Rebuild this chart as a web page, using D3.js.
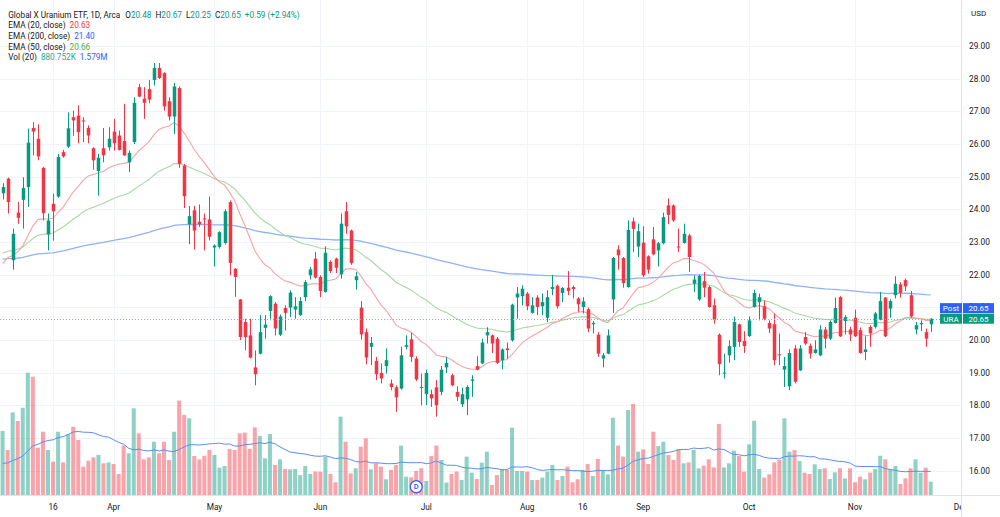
<!DOCTYPE html>
<html><head><meta charset="utf-8">
<script src="https://cdnjs.cloudflare.com/ajax/libs/d3/7.8.5/d3.min.js"></script>
<style>body{margin:0;background:#fff}svg{display:block}text{font-family:Roboto,"Noto Sans",sans-serif}</style>
</head><body>
<svg id="c" width="1000" height="517"></svg>
<script>
// ---------- DATA ----------
const firstSession = "2022-03-02";
const axisLastDay = "2022-12-09";
const holidays = ["2022-04-15","2022-05-30","2022-06-20","2022-07-04","2022-09-05","2022-11-24"];
const tickDates  = ["2022-03-16","2022-04-01","2022-05-02","2022-06-01","2022-07-01","2022-08-01","2022-08-16","2022-09-01","2022-10-03","2022-11-01","2022-12-01"];
const tickLabels = ["16","Apr","May","Jun","Jul","Aug","16","Sep","Oct","Nov","Dec"];
const priceTicks = [16,17,18,19,20,21,22,23,24,25,26,27,28,29];
const dividendDate = "2022-06-29";

const openP = [24.49,24.94,22.44,23.90,24.29,24.68,26.49,26.16,25.27,23.23,24.17,24.39,25.75,25.92,26.82,26.87,26.72,26.49,25.87,25.17,
25.87,25.90,26.38,26.26,26.09,25.44,26.06,27.74,27.39,27.68,27.96,28.33,28.17,27.31,26.84,27.71,25.34,23.54,23.97,23.62,
23.72,23.69,22.83,22.85,22.97,24.22,22.18,21.24,20.55,20.14,19.16,19.58,20.37,20.89,21.11,20.16,20.98,20.99,20.93,20.76,
21.31,21.98,22.49,21.93,21.47,22.39,22.49,22.01,23.94,23.35,21.83,20.99,20.24,19.79,19.36,18.99,19.20,18.67,18.55,18.51,
19.79,20.02,19.43,18.56,18.34,18.34,18.55,18.41,19.16,18.92,18.41,18.03,18.18,18.75,19.20,19.28,20.14,20.14,20.04,19.38,
19.74,19.99,21.30,21.34,21.42,20.83,21.30,21.03,20.68,21.56,21.66,21.44,21.60,21.62,21.27,21.01,20.94,20.48,20.16,19.43,
19.58,21.24,22.77,22.51,21.62,23.63,22.86,22.98,22.56,23.08,22.74,22.96,24.12,24.12,22.86,22.97,23.20,21.72,21.24,21.80,
21.62,21.06,20.16,18.97,19.53,19.79,20.48,19.97,20.12,21.01,21.16,21.03,20.52,20.48,19.56,19.09,18.58,19.74,19.07,20.09,
19.82,19.60,19.53,20.32,20.04,20.52,21.31,20.58,20.32,20.68,20.30,19.63,20.40,20.40,20.62,21.30,20.96,21.37,21.70,21.83,
21.37,20.32,20.48,20.24,20.48];
const highP = [24.80,24.97,23.41,24.22,24.98,26.47,26.67,26.60,25.30,23.87,24.48,25.70,25.82,26.97,27.02,27.18,26.82,26.57,25.90,25.70,
26.49,26.51,26.77,26.41,27.23,25.80,27.43,27.84,27.74,27.96,28.48,28.48,28.20,27.43,27.87,27.76,25.39,24.10,24.10,24.15,
23.87,24.39,22.92,23.33,24.00,24.27,22.20,21.25,20.65,20.65,19.68,20.76,20.76,21.37,21.16,20.78,21.06,21.52,21.31,21.31,
21.83,22.23,22.69,21.98,22.87,22.44,22.52,23.87,24.22,23.38,22.08,21.19,20.35,20.09,19.48,19.28,19.74,18.79,18.61,19.79,
20.14,20.22,19.50,18.97,19.09,18.48,18.77,19.20,19.48,18.97,18.58,18.54,18.61,18.92,19.50,20.04,20.39,20.17,20.09,19.74,
19.92,21.11,21.62,21.67,21.47,21.31,21.37,21.42,21.52,21.99,21.70,21.62,22.11,21.67,21.31,21.31,20.99,20.58,20.24,19.60,
20.32,22.54,22.90,22.54,23.66,23.75,23.56,23.48,22.59,23.46,23.00,23.90,24.33,24.15,23.41,23.56,23.25,21.98,22.00,22.08,
21.67,21.27,20.20,19.58,19.99,20.72,20.50,20.27,20.72,21.54,21.42,21.21,20.60,20.81,20.20,19.48,19.71,19.84,19.84,20.24,
19.89,19.99,20.45,20.40,20.60,21.30,21.34,20.76,20.40,20.93,20.38,20.11,20.45,20.86,21.47,21.31,21.24,21.95,21.77,21.88,
21.50,20.55,20.60,20.35,20.67];
const lowP = [24.30,23.87,22.15,23.56,23.41,24.07,25.65,25.50,23.66,22.74,23.04,24.35,25.58,25.88,26.25,26.02,26.06,26.02,25.21,24.42,
25.44,25.80,25.80,25.80,25.64,25.14,26.00,27.43,26.77,27.25,27.79,27.99,27.02,26.72,26.31,25.27,24.04,22.93,22.77,23.46,
22.74,23.05,22.25,22.80,22.92,21.98,21.32,20.00,19.68,19.43,18.61,19.56,20.04,20.65,20.14,20.12,20.29,20.70,20.65,20.74,
21.19,21.85,21.88,21.31,21.45,22.05,22.05,21.88,23.25,22.30,21.54,20.01,19.25,19.23,18.77,18.67,18.97,18.46,17.80,18.48,
19.71,19.33,18.74,18.00,18.00,17.95,17.65,18.31,18.99,18.58,18.13,17.95,17.70,18.26,19.07,19.26,19.89,19.60,19.26,19.10,
19.43,19.95,20.65,21.06,20.91,20.81,20.76,20.76,20.55,21.37,20.96,21.16,21.37,21.27,20.86,20.81,20.24,20.20,19.48,19.16,
19.56,20.83,22.15,21.60,21.60,22.69,22.54,21.93,22.03,22.59,22.25,22.93,23.54,23.61,22.69,22.95,22.08,21.47,21.20,21.31,
20.99,20.50,18.92,18.82,19.30,19.38,19.79,19.60,20.09,20.99,20.60,20.60,20.21,19.23,19.23,18.56,18.46,18.67,19.05,19.84,
19.43,19.58,19.50,19.74,20.00,20.50,20.09,20.17,19.97,20.09,19.58,19.38,19.79,20.35,20.60,20.09,20.68,21.27,21.30,21.50,
20.68,20.17,20.27,19.79,20.25];
const closeP = [24.68,24.22,23.25,23.74,24.65,26.04,26.38,25.62,23.88,23.66,23.94,25.60,25.62,26.48,26.72,26.36,26.69,26.26,25.50,25.58,
25.65,26.16,26.02,25.82,25.65,25.73,27.26,27.45,27.26,27.36,28.33,28.02,27.15,26.84,27.76,25.39,24.40,23.79,23.35,23.54,
23.69,23.16,22.89,23.30,23.94,22.36,21.93,20.09,20.09,19.46,18.95,20.24,20.47,21.34,20.35,20.72,20.83,21.45,21.03,21.19,
21.77,22.16,21.91,21.50,22.67,22.11,22.21,23.56,23.48,22.35,21.95,20.17,19.46,19.91,18.95,18.82,19.38,18.56,18.24,19.53,
19.84,19.48,18.79,18.54,18.99,18.21,18.00,19.09,19.30,18.61,18.26,18.34,18.56,18.79,19.09,19.92,20.24,19.89,19.30,19.71,
19.69,21.08,21.42,21.57,21.03,21.06,21.01,21.16,21.31,21.62,21.03,21.59,21.50,21.56,21.09,21.18,20.35,20.52,19.58,19.53,
20.14,22.51,22.59,21.74,23.37,23.40,23.33,21.98,22.15,22.62,22.96,23.76,23.83,23.66,22.83,23.25,22.54,21.85,21.96,21.60,
21.01,20.62,19.26,19.00,19.81,20.55,19.94,19.81,20.60,21.44,21.31,20.65,20.35,19.38,19.53,19.20,19.60,18.72,19.74,19.89,
19.58,19.71,20.32,20.04,20.55,20.98,20.11,20.70,20.17,20.11,19.60,19.71,20.20,20.81,21.19,20.11,21.19,21.72,21.44,21.64,
20.72,20.45,20.52,20.04,20.65];
// volume, millions of shares
const volumeM = [4.24,2.98,5.47,4.90,5.78,8.10,7.83,3.13,4.19,2.98,2.21,4.19,2.16,4.02,4.52,3.64,1.88,2.27,2.49,2.65,
2.10,2.16,2.05,1.39,3.27,2.76,5.74,4.08,2.36,2.49,3.53,2.76,3.53,2.32,4.19,6.25,5.30,5.08,2.58,2.36,
2.60,2.98,2.65,1.81,1.92,3.05,2.98,4.08,4.13,3.05,4.48,3.91,2.43,4.04,1.99,2.36,1.72,1.70,1.72,1.32,
1.92,1.39,1.55,1.55,2.54,1.39,0.84,5.19,3.53,1.43,1.77,3.20,3.75,1.70,2.10,1.88,1.04,1.66,1.99,3.27,
1.21,1.17,1.59,1.77,0.93,2.58,3.27,2.32,0.82,1.39,1.55,0.99,2.54,1.48,1.06,2.14,2.87,0.66,1.32,1.72,
1.66,4.46,1.59,1.59,1.55,0.99,0.99,1.15,1.55,1.99,0.99,1.26,1.88,0.84,1.04,1.66,2.05,1.26,2.38,1.66,
1.37,5.12,3.27,2.54,5.63,6.03,2.87,3.02,2.05,4.19,3.24,3.53,2.65,2.32,3.05,2.10,2.16,2.98,1.77,1.94,
2.36,1.83,4.70,1.83,2.10,2.94,2.58,1.55,3.35,4.92,1.72,1.15,1.37,2.16,2.32,5.08,2.87,2.98,2.25,1.48,
1.39,2.03,1.72,1.77,1.06,1.50,1.77,1.10,1.77,0.84,1.21,1.04,1.48,1.72,2.60,2.36,1.72,1.92,0.73,1.10,
1.77,2.36,1.48,1.81,0.88];
// estimated volumes of the 19 sessions before the window (feed the 20-day volume average)
const volBeforeWindow = [2.6,2.2,2.5,2.3,1.3,1.0,1.2,1.1,1.0,1.3,1.2,1.0,1.2,1.1,3.0,2.8,2.5,3.0,5.5];
// EMA values on the session before the window
const ema20Prior = 22.09, ema50Prior = 22.57, ema200Prior = 22.45;
// legend texts
const legendTitle = "Global X Uranium ETF, 1D, Arca";
const legendOHLC = [["O","20.48"],["H","20.67"],["L","20.25"],["C","20.65"]];
const legendChange = "+0.59 (+2.94%)";
const ema20Text = "20.63", ema200Text = "21.40", ema50Text = "20.66";
const volText = "880.752K", volMaText = "1.579M";

// ---------- LAYOUT ----------
const plotR = 961, plotB = 495;
const UP = "#089981", DOWN = "#f23645";
const svg = d3.select("#c");
const parseD = d3.utcParse("%Y-%m-%d"), fmtD = d3.utcFormat("%Y-%m-%d");
const sessions = d3.utcDays(parseD(firstSession), d3.utcDay.offset(parseD(axisLastDay), 1))
  .filter(d => d.getUTCDay() !== 0 && d.getUTCDay() !== 6 && !holidays.includes(fmtD(d)))
  .map(fmtD);
const step = 5.044, firstX = 2.6;
const x = d3.scaleBand().domain(sessions)
  .range([firstX - step/2, firstX - step/2 + step*sessions.length])
  .paddingInner(0.3).paddingOuter(0.15);
const xc = d => x(d) + x.bandwidth()/2;
const y = d3.scaleLinear().domain([16, 29]).range([470.6, 46]);
const yv = d3.scaleLinear().domain([0, 8]).range([plotB, plotB - 8*15.1]);

const bars = closeP.map((c, i) => ({d: sessions[i], o: openP[i], h: highP[i], l: lowP[i], c, v: volumeM[i]}));

svg.append("defs").append("clipPath").attr("id", "plot")
  .append("rect").attr("x", 0).attr("y", 0).attr("width", plotR).attr("height", plotB);
svg.append("defs").append("clipPath").attr("id", "timeaxis")
  .append("rect").attr("x", 0).attr("y", plotB).attr("width", plotR).attr("height", 517 - plotB);

// grid
const grid = svg.append("g").attr("clip-path", "url(#plot)");
grid.selectAll("line.h").data(priceTicks).join("line")
  .attr("x1", 0).attr("x2", plotR).attr("y1", d => Math.round(y(d)) + 0.5).attr("y2", d => Math.round(y(d)) + 0.5)
  .attr("stroke", "#f0f3fa").attr("stroke-width", 1);
grid.selectAll("line.v").data(tickDates).join("line")
  .attr("y1", 0).attr("y2", plotB).attr("x1", d => Math.round(xc(d)) + 0.5).attr("x2", d => Math.round(xc(d)) + 0.5)
  .attr("stroke", "#f0f3fa").attr("stroke-width", 1);

const plot = svg.append("g").attr("clip-path", "url(#plot)");

// volume bars
const vw = step*0.8;
plot.append("g").selectAll("rect").data(bars).join("rect")
  .attr("x", d => xc(d.d) - vw/2).attr("width", vw)
  .attr("y", d => yv(d.v)).attr("height", d => plotB - yv(d.v))
  .attr("fill", d => d.c >= d.o ? UP : DOWN).attr("fill-opacity", 0.45);

// volume MA (20)
const volAll = volBeforeWindow.concat(volumeM);
const volMa = volumeM.map((v, i) => d3.mean(volAll.slice(i + volBeforeWindow.length - 19, i + volBeforeWindow.length + 1)));
const lineGen = (sc) => d3.line().x((v, i) => xc(sessions[i])).y(v => sc(v)).curve(d3.curveLinear);
plot.append("path").attr("d", lineGen(yv)(volMa)).attr("fill", "none").attr("stroke", "#5b8def").attr("stroke-width", 1);

// EMAs
function ema(vals, period, prior) { const k = 2/(period + 1); let e = prior; return vals.map(v => (e = v*k + e*(1 - k))); }
const ema200 = ema(closeP, 200, ema200Prior), ema50 = ema(closeP, 50, ema50Prior), ema20 = ema(closeP, 20, ema20Prior);
plot.append("path").attr("d", lineGen(y)(ema200)).attr("fill", "none").attr("stroke", "#8fb3f3").attr("stroke-width", 1.3);
plot.append("path").attr("d", lineGen(y)(ema50)).attr("fill", "none").attr("stroke", "#a8d8a5").attr("stroke-width", 1.1);
plot.append("path").attr("d", lineGen(y)(ema20)).attr("fill", "none").attr("stroke", "#f7a3a8").attr("stroke-width", 1.1);

// candles
const cg = plot.append("g").selectAll("g").data(bars).join("g");
cg.append("line")
  .attr("x1", d => Math.round(xc(d.d)) + 0.5).attr("x2", d => Math.round(xc(d.d)) + 0.5)
  .attr("y1", d => y(d.h)).attr("y2", d => y(d.l))
  .attr("stroke", d => d.c >= d.o ? UP : DOWN).attr("stroke-width", 1);
const bw = x.bandwidth();
cg.append("rect")
  .attr("x", d => Math.round(xc(d.d)) + 0.5 - bw/2).attr("width", bw)
  .attr("y", d => y(Math.max(d.o, d.c)))
  .attr("height", d => Math.max(1, Math.abs(y(d.o) - y(d.c))))
  .attr("fill", d => d.c >= d.o ? UP : DOWN);

// last price dotted line
const last = bars[bars.length - 1];
plot.append("line").attr("x1", 0).attr("x2", plotR)
  .attr("y1", Math.round(y(last.c)) + 0.5).attr("y2", Math.round(y(last.c)) + 0.5)
  .attr("stroke", "#8fa6e6").attr("stroke-width", 1).attr("stroke-dasharray", "1,2");

// dividend marker
const dg = svg.append("g").attr("transform", `translate(${xc(dividendDate)},${plotB - 8.3})`);
dg.append("circle").attr("r", 6).attr("fill", "#fff").attr("stroke", "#2962ff").attr("stroke-width", 1.3);
dg.append("text").attr("text-anchor", "middle").attr("dy", "0.35em").attr("font-size", 7.5).attr("font-weight", 600)
  .attr("fill", "#2962ff").text("D");

// borders
svg.append("line").attr("x1", plotR + 0.5).attr("x2", plotR + 0.5).attr("y1", 0).attr("y2", 517).attr("stroke", "#e0e3eb");
svg.append("line").attr("x1", 0).attr("x2", 1000).attr("y1", plotB + 0.5).attr("y2", plotB + 0.5).attr("stroke", "#e0e3eb");

// price axis
const ya = svg.append("g").attr("transform", `translate(${plotR + 8},0)`)
  .call(d3.axisRight(y).tickValues(priceTicks).tickFormat(d3.format(".2f")).tickSize(0));
ya.select(".domain").remove();
ya.selectAll("text").attr("x", 0).attr("font-size", 8.3).attr("fill", "#131722").attr("font-family", "Roboto,sans-serif");
svg.append("text").attr("x", plotR + 10).attr("y", 16).attr("font-size", 8).attr("fill", "#131722").text("USD");

// time axis
const xa = svg.append("g").attr("clip-path", "url(#timeaxis)").append("g").attr("transform", `translate(0,${plotB})`)
  .call(d3.axisBottom(x).tickValues(tickDates).tickFormat((d, i) => tickLabels[i]).tickSize(0));
xa.select(".domain").remove();
xa.selectAll(".tick").attr("transform", d => `translate(${xc(d)},0)`);
xa.selectAll("text").attr("y", 9).attr("font-size", 8.3).attr("fill", "#131722").attr("font-family", "Roboto,sans-serif");

// price labels (Post / URA)
const uraY = y(last.c), postY = uraY - 10.6;
function tag(cy, label, val, color) {
  const g = svg.append("g");
  g.append("rect").attr("x", 940).attr("y", cy - 5).attr("width", 22).attr("height", 10).attr("fill", color);
  g.append("rect").attr("x", 963).attr("y", cy - 5).attr("width", 31).attr("height", 10).attr("fill", color);
  g.append("text").attr("x", 951).attr("y", cy).attr("dy", "0.35em").attr("text-anchor", "middle").attr("font-size", 8).attr("fill", "#fff").text(label);
  g.append("text").attr("x", 978.5).attr("y", cy).attr("dy", "0.35em").attr("text-anchor", "middle").attr("font-size", 8).attr("fill", "#fff").text(val);
}
tag(postY, "Post", d3.format(".2f")(last.c), "#2962ff");
tag(uraY, "URA", d3.format(".2f")(last.c), UP);

// legend
const lg = svg.append("g").attr("font-size", 8.2).attr("fill", "#131722");
const r1 = lg.append("text").attr("x", 8.3).attr("y", 17.5);
r1.append("tspan").text(legendTitle);
legendOHLC.forEach(([k, v], i) => {
  r1.append("tspan").attr("dx", i === 0 ? 5 : 4).text(k);
  r1.append("tspan").attr("fill", UP).text(v);
});
r1.append("tspan").attr("dx", 4).attr("fill", UP).text(legendChange);
function legRow(yy, label, vals) {
  const t = lg.append("text").attr("x", 8.3).attr("y", yy);
  t.append("tspan").text(label);
  vals.forEach(([v, col]) => t.append("tspan").attr("dx", 4).attr("fill", col).text(v));
}
legRow(28.2, "EMA (20, close)", [[ema20Text, "#f23645"]]);
legRow(39, "EMA (200, close)", [[ema200Text, "#2962ff"]]);
legRow(49.7, "EMA (50, close)", [[ema50Text, "#4caf50"]]);
legRow(60.4, "Vol (20)", [[volText, "#22ab94"], [volMaText, "#2962ff"]]);
</script>
</body></html>
